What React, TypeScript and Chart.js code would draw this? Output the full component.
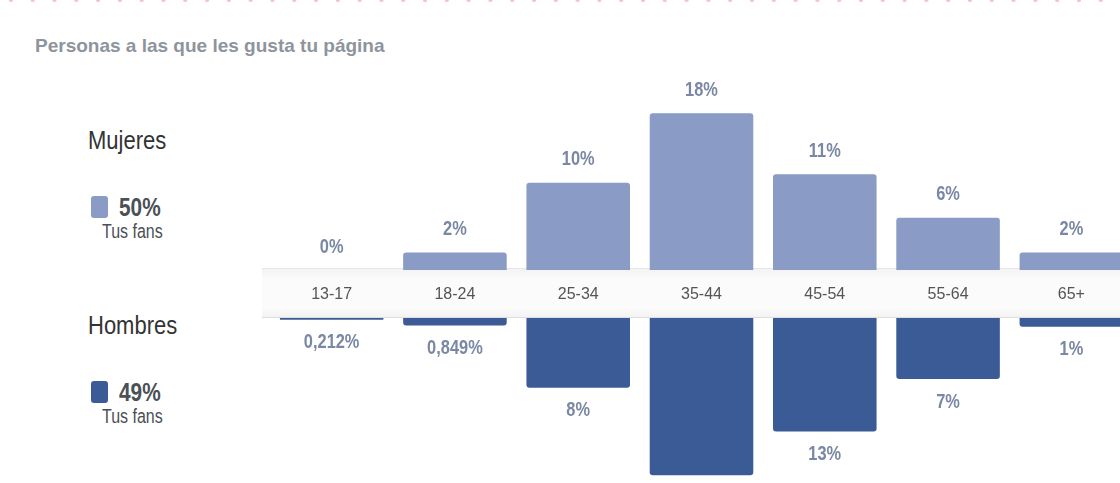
import React, { useEffect, useRef } from "react";
import { Chart, registerables } from "chart.js";

Chart.register(...registerables);

// ---- data ----
const ageGroups = ["13-17", "18-24", "25-34", "35-44", "45-54", "55-64", "65+"];
const womenValues = [0, 2, 10, 18, 11, 6, 2];
const menValues = [0.212, 0.849, 8, 18, 13, 7, 1];
const womenLabels = ["0%", "2%", "10%", "18%", "11%", "6%", "2%"];
const menLabels = ["0,212%", "0,849%", "8%", "18%", "13%", "7%", "1%"];
const legendNames = ["Mujeres", "Hombres"];
const legendShares = ["50%", "49%"];
const legendSub = "Tus fans";
const titleText = "Personas a las que les gusta tu página";

// ---- styles ----
const WOMEN_COLOR = "#8a9bc5";
const MEN_COLOR = "#3b5b97";
const LABEL_COLOR = "#7b88a4";
const FONT = '"Liberation Sans", Arial, Helvetica, sans-serif';

function valueLabels(labels: string[], offset: number) {
  return {
    id: "valueLabels",
    afterDatasetsDraw(chart: any) {
      const ctx = chart.ctx;
      const meta = chart.getDatasetMeta(0);
      ctx.save();
      ctx.font = `bold 20px ${FONT}`;
      ctx.fillStyle = LABEL_COLOR;
      ctx.textAlign = "center";
      ctx.textBaseline = "middle";
      meta.data.forEach((bar: any, i: number) => {
        ctx.save();
        ctx.translate(bar.x, bar.y + offset);
        ctx.scale(0.82, 1);
        ctx.fillText(labels[i], 0, 0);
        ctx.restore();
      });
      ctx.restore();
    },
  };
}

export default function App() {
  const topRef = useRef<HTMLCanvasElement>(null);
  const botRef = useRef<HTMLCanvasElement>(null);

  useEffect(() => {
    const top = new Chart(topRef.current!, {
      type: "bar",
      data: {
        labels: ageGroups,
        datasets: [
          {
            data: womenValues,
            backgroundColor: WOMEN_COLOR,
            borderRadius: 3,
            borderSkipped: "start",
            barPercentage: 0.84,
            categoryPercentage: 1,
          },
        ],
      },
      options: {
        animation: false,
        responsive: false,
        maintainAspectRatio: false,
        layout: { padding: 0 },
        plugins: { legend: { display: false }, tooltip: { enabled: false } },
        scales: {
          x: { display: false },
          y: { display: false, min: 0, max: 24.1 },
        },
      },
      plugins: [valueLabels(womenLabels, -23)],
    });

    const bottom = new Chart(botRef.current!, {
      type: "bar",
      data: {
        labels: ageGroups,
        datasets: [
          {
            data: menValues,
            backgroundColor: MEN_COLOR,
            borderRadius: 3,
            borderSkipped: "start",
            barPercentage: 0.84,
            categoryPercentage: 1,
          },
        ],
      },
      options: {
        animation: false,
        responsive: false,
        maintainAspectRatio: false,
        layout: { padding: 0 },
        plugins: { legend: { display: false }, tooltip: { enabled: false } },
        scales: {
          x: {
            position: "top",
            grid: { display: false },
            border: { display: false },
            ticks: { color: "#555", font: { size: 16, family: FONT }, padding: 6 },
            afterFit: (s: any) => {
              s.height = 50;
            },
          },
          y: { display: false, reverse: true, min: 0, max: 18.9 },
        },
      },
      plugins: [valueLabels(menLabels, 23)],
    });

    return () => {
      top.destroy();
      bottom.destroy();
    };
  }, []);

  const squeeze = (w: number): React.CSSProperties => ({
    transform: `scaleX(${w})`,
    transformOrigin: "left center",
    whiteSpace: "nowrap",
  });

  return (
    <div
      style={{
        position: "fixed",
        left: 0,
        top: 0,
        width: 1120,
        height: 483,
        overflow: "hidden",
        background: "#fff",
        fontFamily: FONT,
      }}
    >
      <div
        style={{
          position: "absolute",
          left: 0,
          top: -2,
          width: 1120,
          height: 4,
          backgroundImage: "radial-gradient(circle, #f4c3d3 1.8px, rgba(255,255,255,0) 2.4px)",
          backgroundSize: "21.8px 4px",
          backgroundPosition: "0px 0px",
        }}
      />
      <div
        style={{
          position: "absolute",
          left: 35,
          top: 36,
          fontSize: 19,
          fontWeight: "bold",
          color: "#8e949d",
          lineHeight: "20px",
          whiteSpace: "nowrap",
        }}
      >
        {titleText}
      </div>

      {legendNames.map((name, i) => {
        const baseY = i === 0 ? 127 : 312;
        const color = i === 0 ? WOMEN_COLOR : MEN_COLOR;
        return (
          <React.Fragment key={name}>
            <div
              style={{
                position: "absolute",
                left: 88,
                top: baseY,
                fontSize: 25,
                lineHeight: "26px",
                color: "#333",
                ...squeeze(0.88),
              }}
            >
              {name}
            </div>
            <div
              style={{
                position: "absolute",
                left: 91,
                top: baseY + 69,
                width: 17,
                height: 22,
                borderRadius: 3,
                background: color,
              }}
            />
            <div
              style={{
                position: "absolute",
                left: 119,
                top: baseY + 66,
                fontSize: 26,
                fontWeight: "bold",
                lineHeight: "28px",
                color: "#4b4f56",
                ...squeeze(0.8),
              }}
            >
              {legendShares[i]}
            </div>
            <div
              style={{
                position: "absolute",
                left: 102,
                top: baseY + 93,
                fontSize: 20,
                lineHeight: "22px",
                color: "#4b4f56",
                ...squeeze(0.8),
              }}
            >
              {legendSub}
            </div>
          </React.Fragment>
        );
      })}

      <div
        style={{
          position: "absolute",
          left: 262,
          top: 268,
          width: 900,
          height: 48,
          background: "linear-gradient(to bottom, #f3f3f3, #fbfbfb 20%, #fbfbfb 80%, #f3f3f3)",
          borderTop: "1px solid #e6e6e6",
          borderBottom: "1px solid #dedede",
        }}
      />

      <canvas
        ref={topRef}
        width={863}
        height={210}
        style={{ position: "absolute", left: 270, top: 60, width: 863, height: 210 }}
      />
      <canvas
        ref={botRef}
        width={863}
        height={215}
        style={{ position: "absolute", left: 270, top: 268, width: 863, height: 215 }}
      />
    </div>
  );
}
